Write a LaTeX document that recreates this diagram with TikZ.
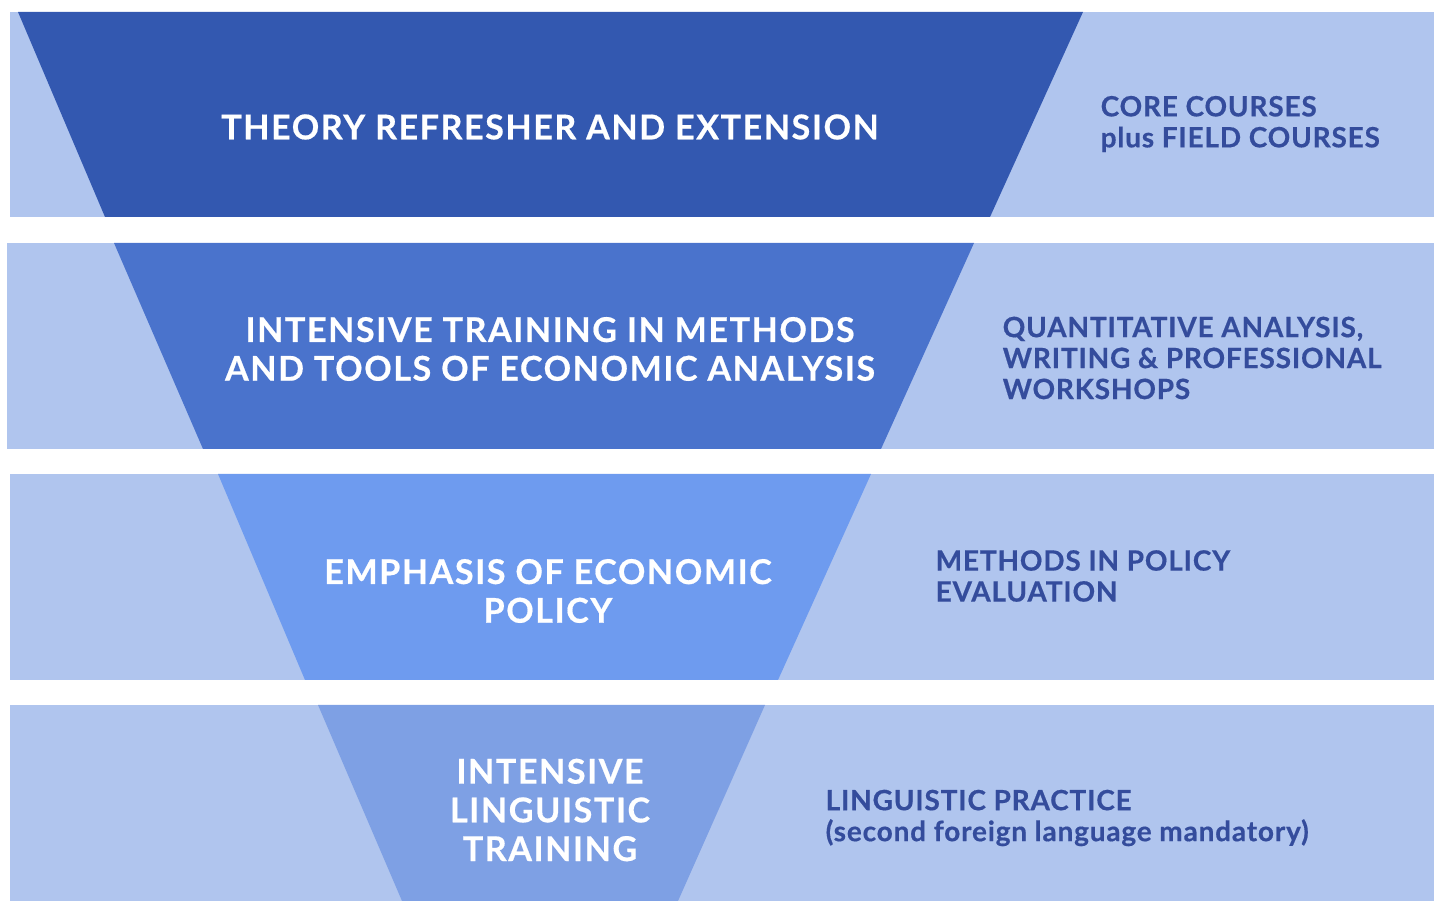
\documentclass[tikz,border=0pt]{standalone}
\usepackage{fontspec}
\setmainfont{Lato}[LetterSpace=4.5, BoldFeatures={FakeBold=0.5}]
\newfontfamily\noteFont{Lato}[LetterSpace=3, BoldFeatures={FakeBold=0.5}]
\usetikzlibrary{positioning}
\definecolor{bandBlue}{HTML}{B0C5EE}
\definecolor{funnelA}{HTML}{3358B0}
\definecolor{funnelB}{HTML}{4A73CC}
\definecolor{funnelC}{HTML}{6E9BEF}
\definecolor{funnelD}{HTML}{7EA0E4}
\definecolor{sideText}{HTML}{344C9C}
\tikzstyle{funnelText} = [text=white, align=center, inner sep=0pt,
	font=\fontsize{9.7}{11}\selectfont\bfseries]
\tikzstyle{sideNote} = [text=sideText, align=left, anchor=west, inner sep=0pt,
	font=\noteFont\fontsize{7.95}{8.8}\selectfont\bfseries]

\begin{document}
\begin{tikzpicture}[x=0.01cm, y=-0.01cm]
  \useasboundingbox (0,0) rectangle (1434,901);
  % background bands
  \fill[bandBlue] (10,12) rectangle (1434,217);
  \fill[bandBlue] (7,243) rectangle (1434,449);
  \fill[bandBlue] (10,474) rectangle (1434,680);
  \fill[bandBlue] (10,705) rectangle (1434,901);
  % funnel slices
  \fill[funnelA] (18,12) -- (1083,12) -- (990,217) -- (105,217) -- cycle;
  \fill[funnelB] (114,243) -- (974,243) -- (881,449) -- (203,449) -- cycle;
  \fill[funnelC] (218,474) -- (871,474) -- (778,680) -- (305,680) -- cycle;
  \fill[funnelD] (318,705) -- (765,705) -- (678,901) -- (402,901) -- cycle;

  \node (theory) at (550,127) [funnelText] {THEORY REFRESHER AND EXTENSION};
  \node (methods) at (550,349) [funnelText] {INTENSIVE TRAINING IN METHODS\\AND TOOLS OF ECONOMIC ANALYSIS};
  \node (policy) at (548,591) [funnelText] {EMPHASIS OF ECONOMIC\\POLICY};
  \node (linguistic) at (550,810) [funnelText] {INTENSIVE\\LINGUISTIC\\TRAINING};

  \node (core) at (1100,124) [sideNote] {CORE COURSES\\plus FIELD COURSES};
  \node (quant) at (1002,358) [sideNote] {QUANTITATIVE ANALYSIS,\\WRITING \& PROFESSIONAL\\WORKSHOPS};
  \node (evaluation) at (935,576) [sideNote] {METHODS IN POLICY\\EVALUATION};
  \node (practice) at (825,818) [sideNote] {LINGUISTIC PRACTICE\\(second foreign language mandatory)};
\end{tikzpicture}
\end{document}
